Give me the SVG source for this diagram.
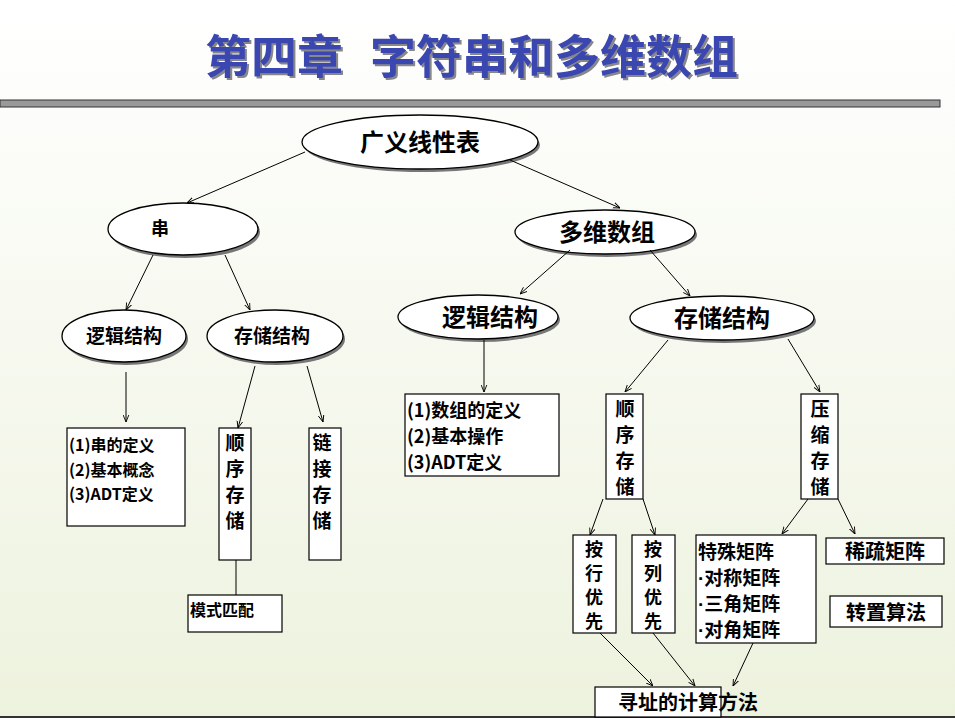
<svg xmlns="http://www.w3.org/2000/svg" width="955" height="718" viewBox="0 0 955 718">
<defs>
<linearGradient id="bg" x1="0" y1="0" x2="0" y2="1"><stop offset="0" stop-color="#ffffff"/><stop offset="1" stop-color="#edf2de"/></linearGradient>
<filter id="sh" x="-5%" y="-20%" width="110%" height="140%"><feDropShadow dx="2" dy="2" stdDeviation="0.5" flood-color="#888"/></filter>
<marker id="ar" viewBox="0 0 10 10" refX="10" refY="5" markerWidth="7" markerHeight="7" orient="auto"><path d="M0,1 L10,5 L0,9" fill="none" stroke="#000" stroke-width="1.3"/></marker>
<style>
.e{fill:#fff;stroke:#000;stroke-width:1.3}
.s{fill:#777}
.b{fill:#fff;stroke:#000;stroke-width:1.2}
.t{font-family:"Noto Sans CJK SC","Liberation Sans",sans-serif;font-weight:bold;fill:#000}
.d{font-family:"Liberation Sans",sans-serif}
.c line{stroke:#000;stroke-width:1;marker-end:url(#ar)}
</style>
</defs>
<rect width="955" height="718" fill="url(#bg)"/>
<text y="73" font-family="Noto Sans CJK SC,serif" font-weight="bold" font-size="46" fill="#3b46b0" filter="url(#sh)"><tspan x="205">第四章</tspan><tspan x="370">字符串和多维数组</tspan></text>
<rect x="0" y="100" width="940" height="7" fill="#999" stroke="#333" stroke-width="1"/>
<line x1="0" y1="717" x2="955" y2="717" stroke="#333" stroke-width="2"/>

<g id="n1"><ellipse class="s" cx="422" cy="145" rx="118" ry="27"/><ellipse class="e" cx="420" cy="142" rx="118" ry="27"/><text class="t" x="420" y="151" text-anchor="middle" font-size="24" font-weight="normal">广义线性表</text></g>
<g id="n2"><ellipse class="s" cx="185" cy="232" rx="75" ry="26"/><ellipse class="e" cx="183" cy="229" rx="75" ry="26"/><text class="t" x="160" y="235" text-anchor="middle" font-size="18">串</text></g>
<g id="n3"><ellipse class="s" cx="126" cy="339" rx="62" ry="26"/><ellipse class="e" cx="124" cy="336" rx="62" ry="26"/><text class="t" x="124" y="343" text-anchor="middle" font-size="19">逻辑结构</text></g>
<g id="n4"><ellipse class="s" cx="277" cy="339" rx="68" ry="26"/><ellipse class="e" cx="275" cy="336" rx="68" ry="26"/><text class="t" x="272" y="343" text-anchor="middle" font-size="19">存储结构</text></g>
<g id="n5"><ellipse class="s" cx="607" cy="235" rx="90" ry="22"/><ellipse class="e" cx="605" cy="232" rx="90" ry="22"/><text class="t" x="607" y="241" text-anchor="middle" font-size="24" font-weight="normal">多维数组</text></g>
<g id="n6"><ellipse class="s" cx="480" cy="320" rx="80" ry="22"/><ellipse class="e" cx="478" cy="317" rx="80" ry="22"/><text class="t" x="490" y="326" text-anchor="middle" font-size="24" font-weight="normal">逻辑结构</text></g>
<g id="n7"><ellipse class="s" cx="724" cy="321" rx="92" ry="22"/><ellipse class="e" cx="722" cy="318" rx="92" ry="22"/><text class="t" x="722" y="327" text-anchor="middle" font-size="24" font-weight="normal">存储结构</text></g>

<g id="n8"><rect class="b" x="67" y="428" width="118" height="98"/><text class="t" font-size="16"><tspan x="69" y="451">(1)串的定义</tspan><tspan x="69" y="476">(2)基本概念</tspan><tspan x="69" y="500">(3)ADT定义</tspan></text></g>
<g id="n9"><rect class="b" x="219" y="428" width="32" height="132"/><text class="t" font-size="19" text-anchor="middle"><tspan x="235" y="450">顺</tspan><tspan x="235" y="476">序</tspan><tspan x="235" y="502">存</tspan><tspan x="235" y="528">储</tspan></text></g>
<g id="n10"><rect class="b" x="309" y="428" width="32" height="132"/><text class="t" font-size="19" text-anchor="middle"><tspan x="322" y="450">链</tspan><tspan x="322" y="476">接</tspan><tspan x="322" y="502">存</tspan><tspan x="322" y="528">储</tspan></text></g>
<g id="n11"><rect class="b" x="188" y="595" width="94" height="37"/><text class="t" x="190" y="616" font-size="16">模式匹配</text></g>
<g id="n12"><rect class="b" x="405" y="394" width="154" height="82"/><text class="t" font-size="18"><tspan x="407" y="417">(1)数组的定义</tspan><tspan x="407" y="443">(2)基本操作</tspan><tspan x="407" y="469">(3)ADT定义</tspan></text></g>
<g id="n13"><rect class="b" x="606" y="394" width="37" height="105"/><text class="t" font-size="19" font-weight="normal" text-anchor="middle"><tspan x="625" y="416">顺</tspan><tspan x="625" y="442">序</tspan><tspan x="625" y="468">存</tspan><tspan x="625" y="494">储</tspan></text></g>
<g id="n14"><rect class="b" x="801" y="394" width="37" height="105"/><text class="t" font-size="19" font-weight="normal" text-anchor="middle"><tspan x="820" y="416">压</tspan><tspan x="820" y="442">缩</tspan><tspan x="820" y="468">存</tspan><tspan x="820" y="494">储</tspan></text></g>
<g id="n15"><rect class="b" x="573" y="535" width="43" height="98"/><text class="t" font-size="18" font-weight="normal" text-anchor="middle"><tspan x="594" y="556">按</tspan><tspan x="594" y="580">行</tspan><tspan x="594" y="604">优</tspan><tspan x="594" y="628">先</tspan></text></g>
<g id="n16"><rect class="b" x="632" y="535" width="43" height="98"/><text class="t" font-size="18" font-weight="normal" text-anchor="middle"><tspan x="653" y="556">按</tspan><tspan x="653" y="580">列</tspan><tspan x="653" y="604">优</tspan><tspan x="653" y="628">先</tspan></text></g>
<g id="n17"><rect class="b" x="696" y="535" width="120" height="108"/><text class="t" font-size="19" font-weight="normal"><tspan x="698" y="559">特殊矩阵</tspan><tspan x="698" y="585"><tspan class="d">·</tspan>对称矩阵</tspan><tspan x="698" y="611"><tspan class="d">·</tspan>三角矩阵</tspan><tspan x="698" y="637"><tspan class="d">·</tspan>对角矩阵</tspan></text></g>
<g id="n18"><rect class="b" x="826" y="538" width="118" height="26"/><text class="t" x="885" y="559" text-anchor="middle" font-size="20" font-weight="normal">稀疏矩阵</text></g>
<g id="n19"><rect class="b" x="830" y="596" width="112" height="31"/><text class="t" x="886" y="620" text-anchor="middle" font-size="20" font-weight="normal">转置算法</text></g>
<g id="n20"><rect class="b" x="595" y="687" width="126" height="30"/><text class="t" x="688" y="710" text-anchor="middle" font-size="20" font-weight="normal">寻址的计算方法</text></g>

<g class="c">
<line x1="305" y1="152" x2="187" y2="203"/>
<line x1="510" y1="160" x2="620" y2="208"/>
<line x1="153" y1="255" x2="126" y2="310"/>
<line x1="225" y1="255" x2="250" y2="310"/>
<line x1="126" y1="372" x2="126" y2="422"/>
<line x1="255" y1="366" x2="238" y2="428"/>
<line x1="307" y1="366" x2="323" y2="422"/>
<line x1="570" y1="250" x2="520" y2="294"/>
<line x1="650" y1="250" x2="690" y2="296"/>
<line x1="484" y1="340" x2="484" y2="392"/>
<line x1="668" y1="340" x2="625" y2="392"/>
<line x1="788" y1="339" x2="820" y2="392"/>
<line x1="603" y1="499" x2="590" y2="535"/>
<line x1="643" y1="499" x2="655" y2="535"/>
<line x1="808" y1="499" x2="782" y2="534"/>
<line x1="838" y1="499" x2="855" y2="534"/>
<line x1="600" y1="633" x2="653" y2="686"/>
<line x1="653" y1="633" x2="695" y2="686"/>
<line x1="753" y1="643" x2="733" y2="686"/>
<line x1="236" y1="560" x2="236" y2="595" style="marker-end:none"/>
</g>
</svg>
